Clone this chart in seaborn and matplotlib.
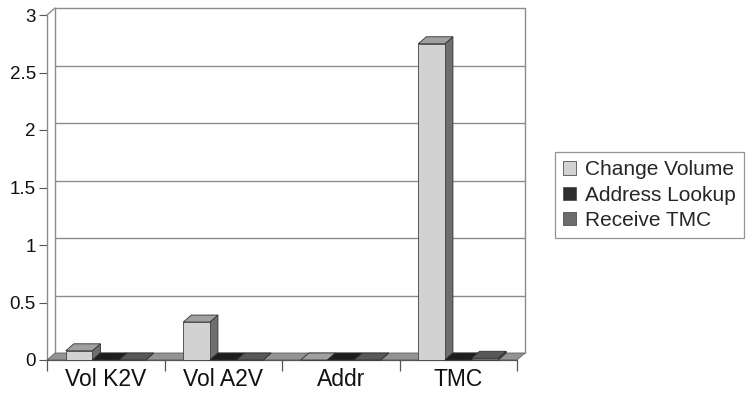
import matplotlib
matplotlib.use("Agg")
import matplotlib.pyplot as plt
import seaborn as sns
import pandas as pd
import numpy as np
from matplotlib.patches import Polygon, Patch

categories = ["Vol K2V", "Vol A2V", "Addr", "TMC"]
series = ["Change Volume", "Address Lookup", "Receive TMC"]
change_volume = [0.08, 0.33, 0.0, 2.75]
address_lookup = [0.0, 0.0, 0.0, 0.0]
receive_tmc = [0.0, 0.0, 0.0, 0.015]
yticks = [0, 0.5, 1, 1.5, 2, 2.5, 3]
ytick_labels = ["0", "0.5", "1", "1.5", "2", "2.5", "3"]

front_colors = {"Change Volume": "#d2d2d2", "Address Lookup": "#2e2e2e", "Receive TMC": "#6c6c6c"}
top_colors = {"Change Volume": "#a0a0a0", "Address Lookup": "#1e1e1e", "Receive TMC": "#585858"}
side_colors = {"Change Volume": "#6e6e6e", "Address Lookup": "#151515", "Receive TMC": "#484848"}

rows = []
for s, vals in zip(series, [change_volume, address_lookup, receive_tmc]):
    for c, v in zip(categories, vals):
        rows.append({"category": c, "series": s, "value": v})
df = pd.DataFrame(rows)

sns.set_style("white")
plt.rcParams["font.family"] = ["Liberation Sans", "DejaVu Sans"]

W, H = 747, 405
fig = plt.figure(figsize=(W / 100, H / 100), dpi=100)
ax = fig.add_axes([47 / W, 45 / H, 470 / W, 345 / H])

sns.barplot(data=df, x="category", y="value", hue="series", order=categories,
            hue_order=series, palette=front_colors, width=0.68, saturation=1,
            edgecolor="#404040", linewidth=0.6, ax=ax, legend=False)

ax.set_xlim(-0.5, 3.5)
ax.set_ylim(0, 3)
for sp in ax.spines.values():
    sp.set_visible(False)
ax.set_xlabel("")
ax.set_ylabel("")
ax.patch.set_alpha(0)

DX, DY = 8, 7
fig.canvas.draw()
tr = ax.transData
inv = tr.inverted()

def off(x, y, k=1.0):
    px, py = tr.transform((x, y))
    return tuple(inv.transform((px + DX * k, py + DY * k)))

wall_c = "#8c8c8c"
xmin, xmax = -0.5, 3.5
for yv in yticks[1:]:
    a = off(xmin, yv); b = off(xmax, yv)
    ax.plot([a[0], b[0]], [a[1], b[1]], color=wall_c, lw=1.0, zorder=0.5, clip_on=False)
a = off(xmin, 0); b = off(xmin, 3)
ax.plot([a[0], b[0]], [a[1], b[1]], color=wall_c, lw=1.0, zorder=0.5, clip_on=False)
a = off(xmax, 0); b = off(xmax, 3)
ax.plot([a[0], b[0]], [a[1], b[1]], color=wall_c, lw=1.0, zorder=0.5, clip_on=False)
ax.plot([xmin, xmin], [0, 3], color=wall_c, lw=1.0, zorder=0.6, clip_on=False)
b = off(xmin, 3)
ax.plot([xmin, b[0]], [3, b[1]], color=wall_c, lw=1.0, zorder=0.6, clip_on=False)

floor = Polygon([(xmin, 0), (xmax, 0), off(xmax, 0), off(xmin, 0)], closed=True,
                facecolor="#939393", edgecolor="#606060", lw=0.6, zorder=1, clip_on=False)
ax.add_patch(floor)
ax.plot([xmin, xmax], [0, 0], color="#555555", lw=0.9, zorder=1.1, clip_on=False)

bars = sorted([p for p in ax.patches if p is not floor], key=lambda p: p.get_x())
n = len(categories)
for i, p in enumerate(bars):
    x0 = p.get_x(); w = p.get_width(); h = p.get_height()
    x1 = x0 + w
    fc = tuple(p.get_facecolor())
    name = series[0]
    for s in series:
        if np.allclose(matplotlib.colors.to_rgba(front_colors[s]), fc, atol=0.01):
            name = s
    z = 2 + i * 0.01
    p.set_zorder(z + 0.005)
    p.set_clip_on(False)
    top = Polygon([(x0, h), (x1, h), off(x1, h), off(x0, h)], closed=True,
                  facecolor=top_colors[name], edgecolor="#303030", lw=0.6, zorder=z, clip_on=False)
    side = Polygon([(x1, 0), (x1, h), off(x1, h), off(x1, 0)], closed=True,
                   facecolor=side_colors[name], edgecolor="#303030", lw=0.6, zorder=z, clip_on=False)
    ax.add_patch(side)
    ax.add_patch(top)

ax.set_yticks(yticks)
ax.set_yticklabels(ytick_labels, fontsize=13.5, color="#111111")
ax.tick_params(axis="y", length=6, width=0.8, color="#555555", pad=2, left=True)
ax.set_xticks(range(n))
ax.set_xticklabels(categories, fontsize=16.5, color="#111111")
ax.tick_params(axis="x", length=0, pad=6)
for xb in np.arange(-0.5, n, 1.0):
    ax.plot([xb], [0], marker=3, markersize=8, color="#555555", mew=0.9,
            clip_on=False, zorder=1.2)

handles = [Patch(facecolor=front_colors[s], edgecolor="#505050", lw=0.6) for s in series]
leg = fig.legend(handles, series, loc="upper left", bbox_to_anchor=(555 / W, 1 - 152 / H),
                 fontsize=15, frameon=True, fancybox=False, edgecolor="#7a7a7a",
                 handlelength=0.6, handleheight=0.6, handletextpad=0.45, labelspacing=0.3,
                 borderpad=0.4, borderaxespad=0)
leg.get_frame().set_linewidth(0.9)

fig.savefig("out.png", dpi=100)
